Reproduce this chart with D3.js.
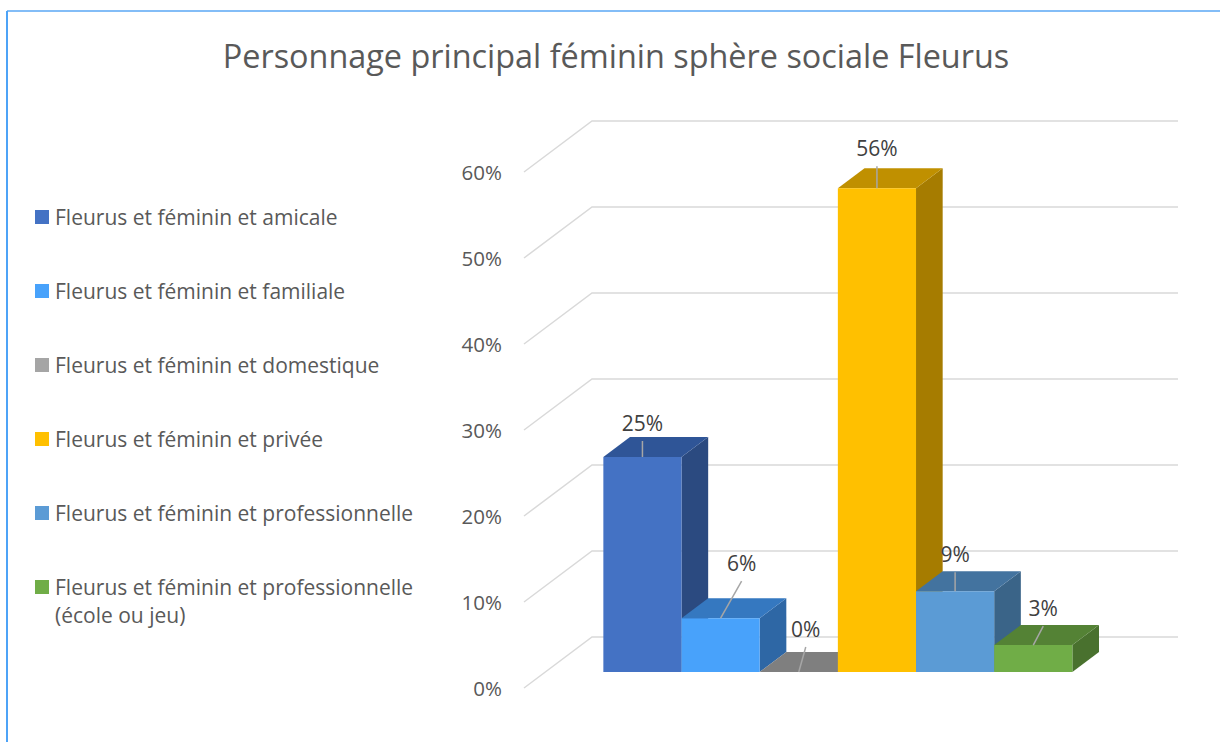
<!DOCTYPE html>
<meta charset="utf-8">
<style>
  body { margin: 0; background: #fff; }
  text { font-family: "Open Sans", sans-serif; }
</style>
<body>
<script src="https://cdn.jsdelivr.net/npm/d3@7/dist/d3.min.js"></script>
<script>

    var title = "Personnage principal féminin sphère sociale Fleurus";

    var categories = [
        "Fleurus et féminin et amicale",
        "Fleurus et féminin et familiale",
        "Fleurus et féminin et domestique",
        "Fleurus et féminin et privée",
        "Fleurus et féminin et professionnelle",
        "Fleurus et féminin et professionnelle (école ou jeu)"
    ];

    var values = [0.25, 0.0625, 0, 0.5625, 0.09375, 0.03125];

    var yTicks = [0, 0.1, 0.2, 0.3, 0.4, 0.5, 0.6];

    // front / top / side shades for each series
    var frontColors = ["#4472c4", "#48a2fb", "#a5a5a5", "#ffc000", "#5b9bd5", "#70ad47"];
    var topColors   = ["#2f5597", "#3578c0", "#7f7f7f", "#c09000", "#43739f", "#548235"];
    var sideColors  = ["#2b4a80", "#2e67a5", "#6e6e6e", "#a67c00", "#3a6488", "#49712e"];

    var w = 1220, h = 742;

    // depth offset of the box (front -> back wall)
    var DX = 68, DY = 51;
    var zFront = 0.314, zBack = 0.706;

    var svg = d3.select("body")
            .append("svg")
            .attr("width", w)
            .attr("height", h);

    // chart frame, cropped on the right and bottom
    svg.append("line")
            .attr("x1", 7).attr("y1", 11).attr("x2", w).attr("y2", 11)
            .attr("stroke", "#5aa7f5").attr("stroke-width", 1.5);
    svg.append("line")
            .attr("x1", 7).attr("y1", 11).attr("x2", 7).attr("y2", h)
            .attr("stroke", "#4da3f7").attr("stroke-width", 2);

    svg.append("text")
            .attr("x", 616)
            .attr("y", 68)
            .attr("text-anchor", "middle")
            .attr("font-size", 32.4)
            .attr("fill", "#595959")
            .text(title);

    var y = d3.scaleLinear().domain([0, 0.6]).range([688, 172]);
    var x = d3.scaleBand().domain(categories).range([582, 1051]).paddingInner(0);
    var floorX = [524, 1110];

    function P(px, v, z) {
        return [px + z * DX, y(v) - z * DY];
    }

    var fmt = d3.format(".0%");

    // gridlines: side wall + back wall
    var grid = svg.append("g")
            .attr("fill", "none")
            .attr("stroke", "#d9d9d9")
            .attr("stroke-width", 1.5);

    grid.selectAll("path")
            .data(yTicks)
            .enter()
            .append("path")
            .attr("d", function(d) {
                var a = P(floorX[0], d, 0), b = P(floorX[0], d, 1), c = P(floorX[1], d, 1);
                return "M" + a + "L" + b + "L" + c;
            });

    svg.append("g")
            .selectAll("text")
            .data(yTicks)
            .enter()
            .append("text")
            .attr("x", 502)
            .attr("y", function(d) { return y(d); })
            .attr("text-anchor", "end")
            .attr("dominant-baseline", "central")
            .attr("font-size", 20.5)
            .attr("fill", "#595959")
            .text(function(d) { return fmt(d); });

    // bars, painted left to right
    var bars = svg.append("g");

    categories.forEach(function(c, i) {
        var v = values[i];
        var x0 = x(c), x1 = x(c) + x.bandwidth();
        var g = bars.append("g");

        var side = [P(x1, v, zFront), P(x1, v, zBack), P(x1, 0, zBack), P(x1, 0, zFront)];
        var top = [P(x0, v, zFront), P(x0, v, zBack), P(x1, v, zBack), P(x1, v, zFront)];
        var front = [P(x0, v, zFront), P(x1, v, zFront), P(x1, 0, zFront), P(x0, 0, zFront)];

        g.append("path").attr("d", "M" + side.join("L") + "Z").attr("fill", sideColors[i]);
        g.append("path").attr("d", "M" + top.join("L") + "Z").attr("fill", topColors[i]);
        g.append("path").attr("d", "M" + front.join("L") + "Z").attr("fill", frontColors[i]);
    });

    // data labels with leader lines
    var labelNudge = [[0, -34], [21, -55], [7, -43], [0, -40], [0, -37], [10, -37]];

    var labels = svg.append("g");

    categories.forEach(function(c, i) {
        var anchor = P(x(c) + x.bandwidth() / 2, values[i], zFront);
        var lx = anchor[0] + labelNudge[i][0], ly = anchor[1] + labelNudge[i][1];

        labels.append("line")
                .attr("x1", lx).attr("y1", ly + 18)
                .attr("x2", anchor[0]).attr("y2", anchor[1])
                .attr("stroke", "#a6a6a6")
                .attr("stroke-width", 1.5);

        labels.append("text")
                .attr("x", lx)
                .attr("y", ly)
                .attr("text-anchor", "middle")
                .attr("dominant-baseline", "central")
                .attr("font-size", 21)
                .attr("fill", "#404040")
                .text(fmt(values[i]));
    });

    // legend
    var legendLines = [
        ["Fleurus et féminin et amicale"],
        ["Fleurus et féminin et familiale"],
        ["Fleurus et féminin et domestique"],
        ["Fleurus et féminin et privée"],
        ["Fleurus et féminin et professionnelle"],
        ["Fleurus et féminin et professionnelle", "(école ou jeu)"]
    ];

    var legend = svg.append("g")
            .selectAll("g")
            .data(categories)
            .enter()
            .append("g")
            .attr("transform", function(d, i) { return "translate(35," + (217 + i * 74) + ")"; });

    legend.append("rect")
            .attr("x", 0)
            .attr("y", -7)
            .attr("width", 14)
            .attr("height", 14)
            .attr("fill", function(d, i) { return frontColors[i]; });

    legend.append("text")
            .attr("x", 20)
            .attr("font-size", 21)
            .attr("fill", "#595959")
            .attr("dominant-baseline", "central")
            .selectAll("tspan")
            .data(function(d, i) { return legendLines[i]; })
            .enter()
            .append("tspan")
            .attr("x", 20)
            .attr("y", function(d, j) { return j * 28; })
            .text(function(d) { return d; });

</script>
